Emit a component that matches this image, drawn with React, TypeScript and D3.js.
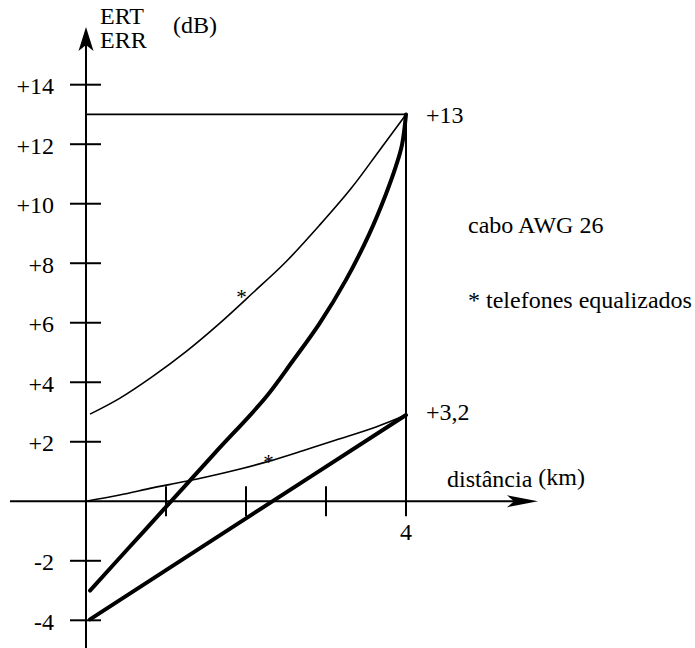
import React from "react";
import * as d3 from "d3";

// y-axis ticks (dB)
const yTicks = [14, 12, 10, 8, 6, 4, 2, -2, -4];
const yTickLabels = ["+14", "+12", "+10", "+8", "+6", "+4", "+2", "-2", "-4"];
// x-axis ticks (km)
const xTicks = [1, 2, 3, 4];
const xTickLabels = ["", "", "", "4"];

// Thin upper curve (telefones equalizados)
const eqUpperKm = [0.05, 0.42, 0.83, 1.25, 1.67, 2.08, 2.5, 2.92, 3.33, 3.67, 4.0];
const eqUpperDb = [2.93, 3.46, 4.19, 5.03, 5.98, 6.99, 8.05, 9.28, 10.57, 11.8, 13.0];

// Thick upper curve
const upperKm = [0.05, 0.55, 1.04, 1.61, 2.24, 2.575, 2.92, 3.25, 3.54, 3.75, 3.875, 3.95, 4.0];
const upperDb = [-3.0, -1.52, -0.07, 1.62, 3.47, 4.68, 5.98, 7.44, 8.98, 10.33, 11.27, 11.98, 13.0];

// Thin lower curve (telefones equalizados)
const eqLowerKm = [0, 0.42, 0.83, 1.04, 1.375, 1.875, 2.29, 2.71, 3.125, 3.625, 4.0];
const eqLowerDb = [0, 0.21, 0.45, 0.56, 0.74, 1.05, 1.35, 1.7, 2.06, 2.5, 2.9];

// Thick lower line
const lowerKm = [0.05, 2.02, 4.0];
const lowerDb = [-3.97, -0.54, 2.9];

const FONT = "Liberation Serif";
const FS = 24;

export default function App() {
  const x = d3.scaleLinear().domain([0, 4]).range([86, 406]);
  const y = d3.scaleLinear().domain([-4, 14]).range([620.3, 84.7]);

  const mk = (xs: number[], ys: number[]) =>
    d3
      .line<number>()
      .x((_, i) => x(xs[i]))
      .y((_, i) => y(ys[i]))
      .curve(d3.curveCatmullRom.alpha(0.5))(xs) || "";

  const x0 = x(0);
  const y0 = y(0);

  return (
    <svg width={695} height={648} style={{ position: "absolute", left: 0, top: 0 }} fontFamily={FONT}>
      <rect width={695} height={648} fill="#fff" />
      {/* y axis */}
      <line x1={x0} y1={648} x2={x0} y2={40} stroke="#000" strokeWidth={2} />
      <path d={`M${x0},27 L${x0 - 7.5},51 L${x0},45 L${x0 + 7.5},51 Z`} fill="#000" />
      {/* x axis */}
      <line x1={10} y1={y0} x2={525} y2={y0} stroke="#000" strokeWidth={2} />
      <path d={`M538,${y0} L507,${y0 - 6} L514,${y0} L507,${y0 + 6} Z`} fill="#000" />

      {/* y ticks */}
      {yTicks.map((t, i) => (
        <g key={t}>
          <line x1={70} x2={101} y1={y(t)} y2={y(t)} stroke="#000" strokeWidth={2} />
          <text x={54} y={y(t) + 9.5} textAnchor="end" fontSize={FS} fontFamily={FONT} fill="#000">
            {yTickLabels[i]}
          </text>
        </g>
      ))}
      {/* x ticks */}
      {xTicks.map((t, i) => (
        <g key={t}>
          <line x1={x(t)} x2={x(t)} y1={y0 - 15} y2={y0 + 15} stroke="#000" strokeWidth={2} />
          <text x={x(t)} y={540} textAnchor="middle" fontSize={FS} fontFamily={FONT} fill="#000">
            {xTickLabels[i]}
          </text>
        </g>
      ))}

      {/* reference lines at +13 */}
      <line x1={x0} x2={x(4)} y1={y(13)} y2={y(13)} stroke="#000" strokeWidth={1.8} />
      <line x1={x(4)} x2={x(4)} y1={y(13)} y2={y0} stroke="#000" strokeWidth={2} />

      {/* curves */}
      <path d={mk(eqUpperKm, eqUpperDb)} fill="none" stroke="#000" strokeWidth={1.6} />
      <path d={mk(eqLowerKm, eqLowerDb)} fill="none" stroke="#000" strokeWidth={1.6} />
      <path d={mk(upperKm, upperDb)} fill="none" stroke="#000" strokeWidth={4} strokeLinecap="round" />
      <path d={mk(lowerKm, lowerDb)} fill="none" stroke="#000" strokeWidth={4} strokeLinecap="round" />

      {/* asterisks */}
      <text x={241.5} y={304} textAnchor="middle" fontSize={21} fontFamily={FONT} fill="#000">*</text>
      <text x={268.5} y={469} textAnchor="middle" fontSize={21} fontFamily={FONT} fill="#000">*</text>

      {/* labels */}
      <text x={100} y={24} fontSize={FS} fontFamily={FONT} fill="#000">ERT</text>
      <text x={100} y={48} fontSize={FS} fontFamily={FONT} fill="#000">ERR</text>
      <text x={173} y={33} fontSize={FS} fontFamily={FONT} fill="#000">(dB)</text>
      <text x={426} y={123} fontSize={FS} fontFamily={FONT} fill="#000">+13</text>
      <text x={426} y={420} fontSize={FS} fontFamily={FONT} fill="#000">+3,2</text>
      <text x={447} y={487} fontSize={FS} fontFamily={FONT} fill="#000">
        distância <tspan dy={-2}>(km)</tspan>
      </text>
      <text x={468} y={233} fontSize={FS} fontFamily={FONT} fill="#000">cabo AWG 26</text>
      <text x={468} y={308} fontSize={FS} fontFamily={FONT} fill="#000">* telefones equalizados</text>
    </svg>
  );
}
